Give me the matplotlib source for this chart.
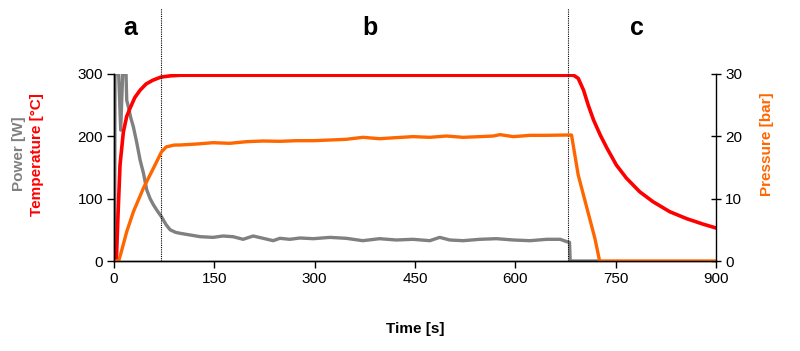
import matplotlib
matplotlib.use("Agg")
import matplotlib.pyplot as plt

plt.rcParams["font.family"] = ["Liberation Sans", "DejaVu Sans"]

# Temperature [degC], left axis
TEMP_T = [3, 4, 6, 9, 14, 19, 24, 31, 39, 48, 58, 70, 84, 100, 687, 694, 702,
          709, 717, 727, 737, 751, 766, 786, 806, 831, 856, 881, 900]
TEMP_V = [0, 15, 74, 154, 207, 232, 245, 262, 274, 284, 290, 295, 297, 298,
          298, 293, 274, 250, 226, 202, 181, 154, 133, 111, 95, 79, 68, 59, 53]

# Power [W], left axis
POWER_T = [0, 1, 1.5, 7, 10, 13, 18, 19, 22, 25, 29, 34, 39, 44, 49, 54, 59,
           65, 71, 78, 84, 92, 99, 114, 129, 148, 163, 178, 193, 208, 223,
           238, 248, 263, 278, 298, 323, 347, 372, 397, 422, 447, 472, 487,
           502, 522, 547, 572, 597, 622, 647, 667, 677, 681, 682, 725]
POWER_V = [0, 0, 300, 300, 210, 300, 300, 258, 245, 230, 215, 190, 162, 141,
           114, 100, 90, 80, 71, 58, 50, 46, 44.4, 41.7, 39.0, 37.9, 40.1,
           39.0, 34.8, 40.1, 36.4, 32.6, 36.4, 34.8, 36.9, 35.8, 37.9, 36.4,
           32.6, 35.8, 33.7, 34.8, 32.6, 37.9, 33.7, 32.6, 34.8, 35.8, 33.7,
           32.6, 34.8, 34.8, 31.0, 30.0, 0, 0]

# Pressure [bar], right axis
PRESS_T = [0, 7, 11, 19, 29, 44, 59, 71, 78, 90, 99, 124, 148, 173, 198, 223,
           248, 273, 298, 323, 347, 372, 397, 422, 447, 472, 497, 522, 547,
           567, 577, 597, 622, 647, 677, 684, 694, 719, 726, 900]
PRESS_V = [0, 0, 1.5, 4.7, 7.9, 11.7, 14.9, 17.5, 18.3, 18.6, 18.61, 18.77,
           18.98, 18.88, 19.14, 19.25, 19.20, 19.30, 19.30, 19.41, 19.52,
           19.84, 19.62, 19.79, 19.95, 19.84, 20.05, 19.84, 19.95, 20.05,
           20.27, 19.95, 20.16, 20.16, 20.21, 20.21, 13.8, 3.6, 0, 0]

PHASE_LINES = [70, 679]
PHASE_LABELS = ["a", "b", "c"]
PHASE_LABEL_X = [24, 383, 782]

RED = "#ff0000"
ORANGE = "#ff6600"
GRAY = "#808080"


def main() -> None:
    fig = plt.figure(figsize=(8.0, 3.51), dpi=100)
    ax = fig.add_axes([0.1425, 0.2564, 0.7525, 0.5328])
    ax2 = ax.twinx()

    ax.plot(POWER_T, POWER_V, color=GRAY, linewidth=2.4, solid_joinstyle="round")
    ax.plot(TEMP_T, TEMP_V, color=RED, linewidth=2.6, solid_joinstyle="round")
    ax2.plot(PRESS_T, PRESS_V, color=ORANGE, linewidth=2.4, solid_joinstyle="round")

    ax.set_xlim(0, 900)
    ax.set_ylim(0, 300)
    ax2.set_ylim(0, 30)
    ax.set_xticks(range(0, 901, 150))
    ax.set_yticks([0, 100, 200, 300])
    ax2.set_yticks([0, 10, 20, 30])

    ax.spines["top"].set_visible(False)
    ax2.spines["top"].set_visible(False)
    ax.spines["right"].set_visible(False)
    for a in (ax, ax2):
        for spine in a.spines.values():
            spine.set_linewidth(1.0)

    ax.tick_params(axis="both", direction="out", length=5, width=1.0,
                   labelsize=11, pad=3)
    ax2.tick_params(axis="y", direction="inout", length=7, width=1.0,
                    labelsize=11, pad=3)

    ax.vlines(PHASE_LINES, 0, 406, colors="black", linestyles=(0, (1, 1)),
              linewidth=0.8, clip_on=False)
    for label, xpos in zip(PHASE_LABELS, PHASE_LABEL_X):
        ax.text(xpos, 374, label, ha="center", va="center", fontsize=18,
                fontweight="bold")

    ax.set_xlabel("Time [s]", fontsize=11, fontweight="bold", labelpad=26)

    fig.text(19 / 800, 1 - 154 / 351, "Power [W]", rotation=90, color=GRAY,
             fontsize=11, fontweight="bold", ha="center", va="center")
    fig.text(37 / 800, 1 - 155 / 351, "Temperature [°C]", rotation=90, color=RED,
             fontsize=11, fontweight="bold", ha="center", va="center")
    fig.text(767 / 800, 1 - 144 / 351, "Pressure [bar]", rotation=90,
             color=ORANGE, fontsize=11, fontweight="bold", ha="center",
             va="center")

    fig.savefig("out.png", dpi=100)
    plt.close(fig)


if __name__ == "__main__":
    main()
